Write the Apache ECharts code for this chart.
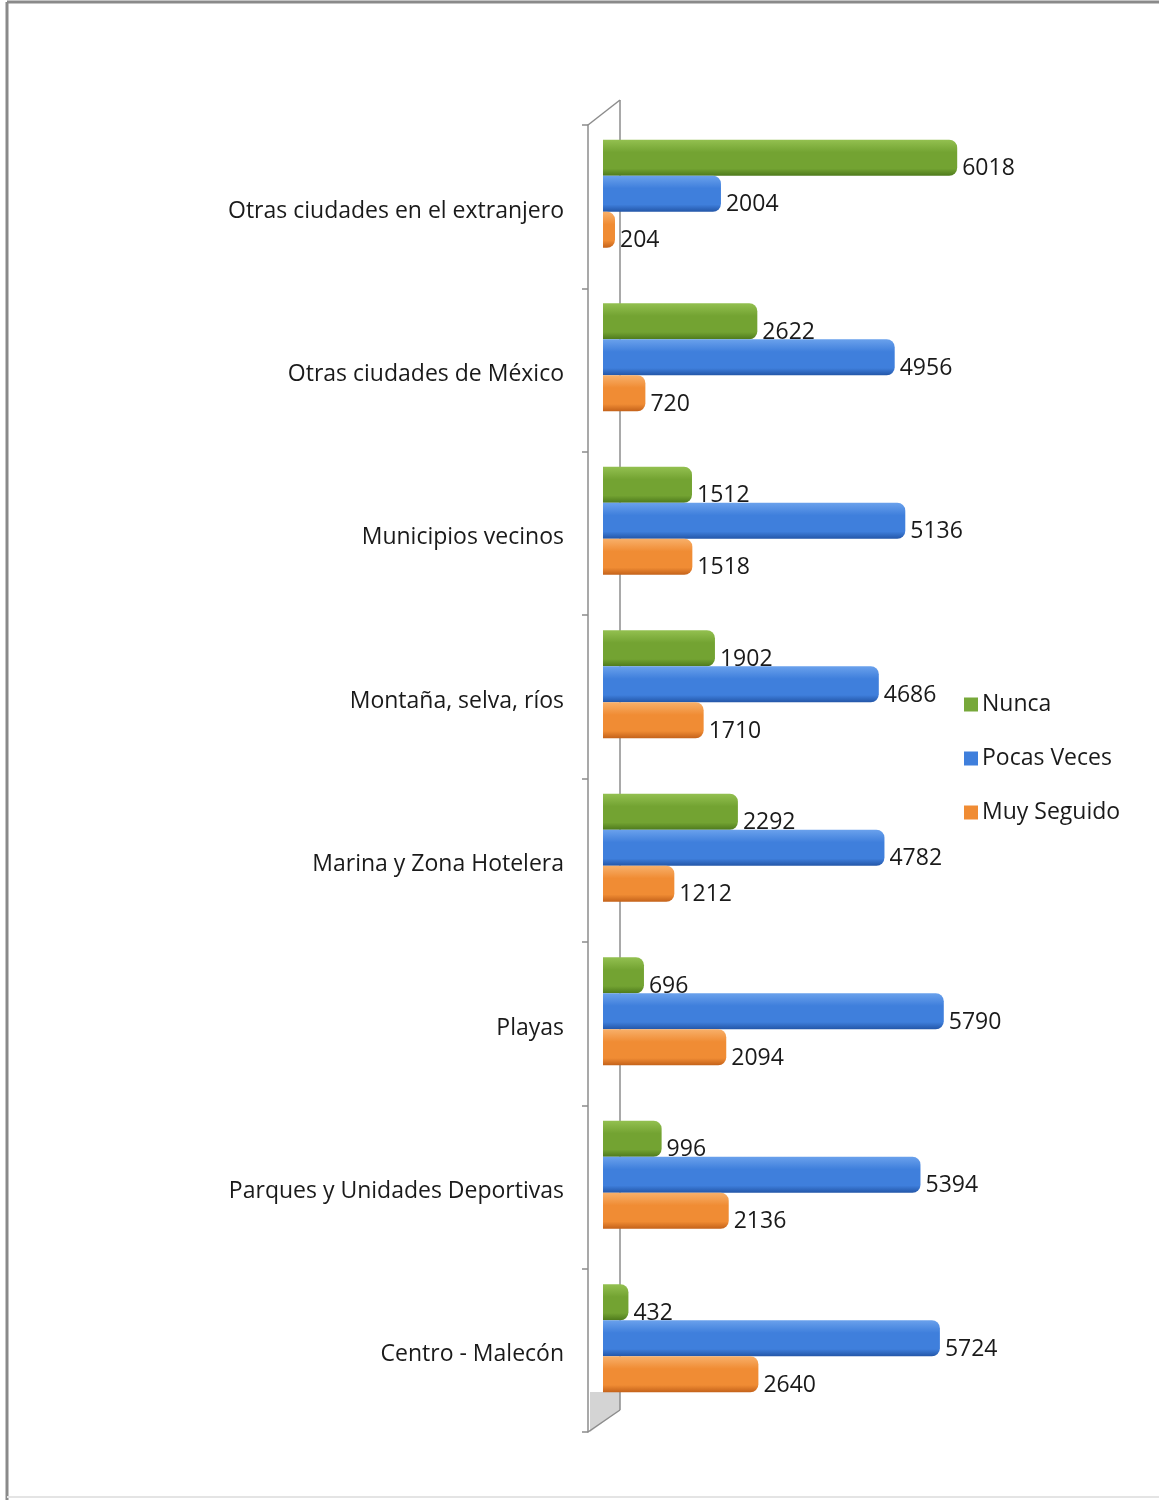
<!DOCTYPE html>
<html>
<head>
<meta charset="utf-8">
<script src="https://cdn.jsdelivr.net/npm/echarts@6/dist/echarts.min.js"></script>
<style>
  html, body { margin: 0; padding: 0; background: #ffffff; }
  #chart { width: 1159px; height: 1500px; }
</style>
</head>
<body>
<div id="chart"></div>
<script>
// ---- data ----
const categories = [
  'Otras ciudades en el extranjero',
  'Otras ciudades de México',
  'Municipios vecinos',
  'Montaña, selva, ríos',
  'Marina y Zona Hotelera',
  'Playas',
  'Parques y Unidades Deportivas',
  'Centro - Malecón'
];
const seriesNames = ['Nunca', 'Pocas Veces', 'Muy Seguido'];
const nunca       = [6018, 2622, 1512, 1902, 2292, 696, 996, 432];
const pocasVeces  = [2004, 4956, 5136, 4686, 4782, 5790, 5394, 5724];
const muySeguido  = [204, 720, 1518, 1710, 1212, 2094, 2136, 2640];

// ---- styles ----
const FONT = '"Open Sans", "Noto Sans", sans-serif';
function cyl(top, mid, bot) {
  return new echarts.graphic.LinearGradient(0, 0, 0, 1, [
    { offset: 0, color: top },
    { offset: 0.35, color: mid },
    { offset: 0.8, color: mid },
    { offset: 1, color: bot }
  ]);
}
const fills = [
  cyl('#93c050', '#73a332', '#4e7a1c'),
  cyl('#6aa1ec', '#3f7fdc', '#2356a8'),
  cyl('#f8b06a', '#f08c34', '#c4621a')
];
const legendColors = ['#77a83a', '#3f7fdc', '#f08c34'];
const dataSets = [nunca, pocasVeces, muySeguido];

const chart = echarts.init(document.getElementById('chart'), null, { renderer: 'canvas' });

const series = seriesNames.map((name, i) => ({
  name: name,
  type: 'bar',
  xAxisIndex: 0,
  yAxisIndex: 0,
  data: dataSets[i],
  barWidth: 36,
  barGap: '0%',
  color: legendColors[i],
  itemStyle: { color: fills[i], borderRadius: [0, 8, 8, 0] },
  label: {
    show: true,
    position: 'right',
    distance: 5,
    offset: [0, 11],
    fontFamily: FONT,
    fontSize: 23,
    color: '#1a1a1a'
  },
  emphasis: { disabled: true },
  animation: false
}));

const option = {
  backgroundColor: '#ffffff',
  animation: false,
  legend: {
    orient: 'vertical',
    left: 959,
    top: 688,
    itemWidth: 14,
    itemHeight: 14,
    itemGap: 31,
    icon: 'rect',
    data: seriesNames.map((n, i) => ({ name: n, itemStyle: { color: legendColors[i] } })),
    textStyle: { fontFamily: FONT, fontSize: 23, color: '#1a1a1a', lineHeight: 22, padding: [0, 0, 0, -1] }
  },
  grid: [
    { left: 603, top: 112, width: 412, height: 1308, containLabel: false },
    { left: 588, top: 125, width: 1, height: 1307, containLabel: false }
  ],
  xAxis: [
    { type: 'value', gridIndex: 0, min: 0, max: 7000, show: false },
    { type: 'value', gridIndex: 1, min: 0, max: 1, show: false }
  ],
  yAxis: [
    {
      type: 'category', gridIndex: 0, data: categories, inverse: true, show: false
    },
    {
      type: 'category', gridIndex: 1, data: categories, inverse: true,
      axisLine: { show: true, lineStyle: { color: '#8c8c8c', width: 1.5 } },
      axisTick: { show: true, length: 6, lineStyle: { color: '#8c8c8c', width: 1.5 } },
      axisLabel: {
        margin: 24,
        formatter: (v) => '{c|' + v + '}',
        rich: { c: { fontFamily: FONT, fontSize: 23, color: '#1a1a1a', padding: [9, 0, 0, 0] } }
      }
    }
  ],
  graphic: [
    // page frame
    { type: 'line', shape: { x1: 7, y1: 2, x2: 1159, y2: 2 }, style: { stroke: '#8a8a8a', lineWidth: 3 }, silent: true },
    { type: 'line', shape: { x1: 7, y1: 2, x2: 7, y2: 1500 }, style: { stroke: '#8a8a8a', lineWidth: 3 }, silent: true },
    { type: 'line', shape: { x1: 7, y1: 1497, x2: 1159, y2: 1497 }, style: { stroke: '#e4e4e4', lineWidth: 2 }, silent: true },
    // 3D wall: floor
    { type: 'polygon', shape: { points: [[590, 1432], [620, 1410], [620, 1392], [590, 1392]] }, style: { fill: '#d4d4d4' }, silent: true, z: -1 },
    // back line and top/bottom diagonals
    { type: 'line', shape: { x1: 620, y1: 100, x2: 620, y2: 1410 }, style: { stroke: '#8c8c8c', lineWidth: 1.5 }, silent: true, z: -1 },
    { type: 'line', shape: { x1: 588, y1: 125, x2: 620, y2: 100 }, style: { stroke: '#8c8c8c', lineWidth: 1.5 }, silent: true },
    { type: 'line', shape: { x1: 588, y1: 1432, x2: 620, y2: 1410 }, style: { stroke: '#8c8c8c', lineWidth: 1.5 }, silent: true }
  ],
  series: series
};
chart.setOption(option);
</script>
</body>
</html>
